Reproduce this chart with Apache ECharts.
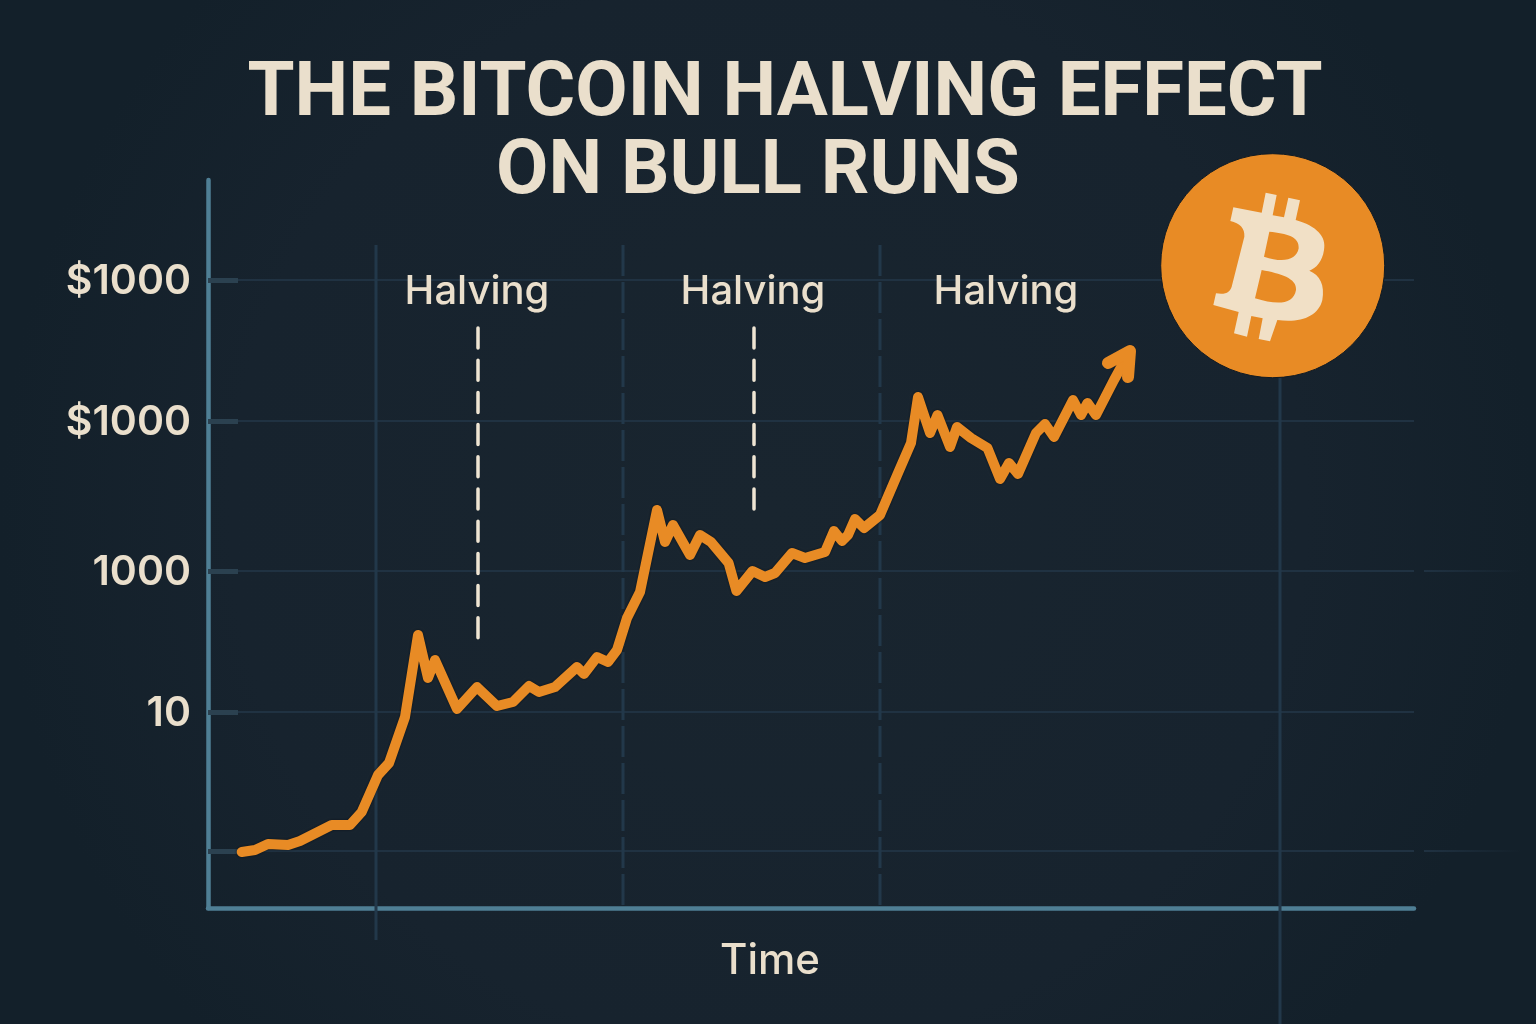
<!DOCTYPE html>
<html><head><meta charset="utf-8">
<style>html,body{margin:0;padding:0;background:#17232e}#c{width:1536px;height:1024px}</style>
<script src="https://cdn.jsdelivr.net/npm/echarts@6/dist/echarts.min.js"></script></head>
<body><div id="c"></div>
<script>
const titleLines = ['THE BITCOIN HALVING EFFECT', 'ON BULL RUNS'];
const axisTitle = 'Time';
const yTickValues = [0.57, 1.96, 3.37, 4.87, 6.28];
const yLabelValues = [0.55, 1.94, 3.35, 4.85, 6.26];
const yTickLabels = ['', '10', '1000', '$1000', '$1000'];
const timeValues = [3.37,4.7,6,8,9.2,12.37,14.2,15.37,17,18.1,19.7,21,22,22.7,24.9,26.9,28.9,30.5,32.1,33.1,34.7,36.9,37.6,38.9,40,40.9,41.9,43.2,44.9,45.7,46.5,48.2,49.2,50.3,52.06,52.84,54.45,55.7,56.7,58.4,59.7,61.7,62.6,63.4,64,64.7,65.6,67.2,69,70.3,71,72.2,72.95,74.2,74.9,76.3,77.95,79.2,80.1,81,82.8,83.7,84.6,86.5,87.3,87.95,88.8,90.6,92.2];
const priceValues = [0.56,0.58,0.64,0.63,0.67,0.83,0.83,0.96,1.33,1.45,1.91,2.73,2.3,2.48,1.99,2.21,2.02,2.06,2.22,2.16,2.21,2.41,2.34,2.51,2.46,2.58,2.9,3.16,3.98,3.66,3.83,3.53,3.73,3.66,3.45,3.17,3.37,3.31,3.35,3.55,3.5,3.56,3.77,3.67,3.73,3.89,3.8,3.93,4.35,4.65,5.11,4.75,4.93,4.61,4.81,4.7,4.6,4.29,4.45,4.34,4.75,4.84,4.71,5.08,4.93,5.05,4.93,5.28,5.57];
const arrowTime = [90.0, 92.2, 92.0];
const arrowPrice = [5.45, 5.57, 5.31];
const halvingLabels = ['Halving', 'Halving', 'Halving'];
const halvingLabelTime = [26.9, 54.5, 79.8];
const halvingLabelPrice = [6.16, 6.16, 6.16];
const halvingDashTime = [27, 54.6];
const halvingDashTop = [5.8, 5.8];
const halvingDashBottom = [2.65, 3.98];
const dashedGuideTime = [41.5, 67.2];
const solidGuides = [[16.8, 6.63, -0.32], [107.2, 5.3, -1.16]];

const GRID = '#203242';
const CREAM = '#eadfcc';
const ORANGE = '#e88b25';
const FONT = 'Inter';

function guide(name, data, color, width, dash, z, cap) {
  return {
    type: 'line', name, data, showSymbol: false, symbol: 'none', silent: true, clip: false, z,
    animation: false,
    lineStyle: { color, width, type: dash || 'solid', cap: cap || 'butt' }
  };
}
const series = [];
dashedGuideTime.forEach((t, i) => series.push(guide('grid-d' + i, [[t, 6.63], [t, 0]], '#22384a', 3, [31, 6], 1)));
solidGuides.forEach((g, i) => series.push(guide('grid-s' + i, [[g[0], g[1]], [g[0], g[2]]], '#22384a', 3, null, 1)));
halvingDashTime.forEach((t, i) => series.push(guide('halving-' + i, [[t, halvingDashTop[i]], [t, halvingDashBottom[i]]], '#efe5d3', 3.5, [20, 12.2], 4, 'round')));
series.push({
  type: 'line', name: 'Bitcoin price', data: timeValues.map((t, i) => [t, priceValues[i]]),
  showSymbol: false, symbol: 'none', clip: false, z: 6, animation: false, smooth: false,
  lineStyle: { color: ORANGE, width: 10, cap: 'round', join: 'round', shadowColor: 'rgba(8,14,20,0.8)', shadowBlur: 3 }
});
series.push({
  type: 'line', name: 'arrow', data: arrowTime.map((t, i) => [t, arrowPrice[i]]),
  showSymbol: false, symbol: 'none', clip: false, z: 6, animation: false,
  lineStyle: { color: ORANGE, width: 12, cap: 'round', join: 'round' }
});
series.push({
  type: 'scatter', name: 'labels', symbolSize: 0, z: 7, animation: false, silent: true,
  itemStyle: { opacity: 1 },
  data: halvingLabelTime.map((t, i) => ({ value: [t, halvingLabelPrice[i]], label: { formatter: halvingLabels[i] } })),
  label: { show: true, position: 'inside', color: CREAM, opacity: 1, fontFamily: FONT, fontSize: 40, fontWeight: 500 }
});

const bPath = 'M250,202 L335,218 L347,158 L380,165 L368,226 L402,232 L415,173 L450,181 L437,240 C500,258 530,290 522,330 C517,365 498,385 478,392 C510,405 525,435 517,480 C505,530 450,550 382,540 L360,604 L326,597 L338,535 L304,528 L291,590 L252,580 L266,516 L190,495 L198,460 C230,465 240,455 245,440 L283,290 C285,265 270,250 241,243 Z M358,275 L342,350 C400,370 440,360 446,325 C450,290 410,280 358,275 Z M335,390 L315,475 C380,495 430,495 438,450 C442,415 390,400 335,390 Z';
echarts.graphic.registerShape('btcGlyph', echarts.graphic.extendPath(bPath, {}));

const fade = { type: 'linear', x: 1424, y: 0, x2: 1522, y2: 0, global: true, colorStops: [{ offset: 0, color: '#203242' }, { offset: 1, color: 'rgba(32,50,66,0)' }] };
const chart = echarts.init(document.getElementById('c'), null, { renderer: 'canvas' });
chart.setOption({
  animation: false,
  backgroundColor: { type: 'radial', x: 0.5, y: 0.5, r: 0.75, colorStops: [{ offset: 0, color: '#19252f' }, { offset: 0.7, color: '#17232e' }, { offset: 1, color: '#13202a' }] },
  title: [
    { text: titleLines[0], left: 780, top: 53, textAlign: 'center', textStyle: { color: CREAM, fontFamily: 'Roboto', fontSize: 76, fontWeight: 700 } },
    { text: titleLines[1], left: 753, top: 131, textAlign: 'center', textStyle: { color: CREAM, fontFamily: 'Roboto', fontSize: 76, fontWeight: 700 } }
  ],
  grid: { left: 208, top: 180, width: 1206, height: 728, containLabel: false },
  xAxis: {
    type: 'value', min: 0, max: 120.6, name: axisTitle, nameLocation: 'middle', nameGap: 32,
    nameTextStyle: { color: CREAM, fontFamily: FONT, fontSize: 42, fontWeight: 500, padding: [0, 82, 0, 0] },
    axisLine: { show: true, onZero: false, lineStyle: { color: '#4f7f95', width: 4.5, cap: 'round' } },
    axisTick: { show: false }, axisLabel: { show: false }, splitLine: { show: false }
  },
  yAxis: {
    type: 'value', min: 0, max: 7.28,
    axisLine: { show: true, onZero: false, lineStyle: { color: '#4f7f95', width: 4.5, cap: 'round' } },
    axisTick: { show: true, inside: true, length: 30, customValues: yTickValues, lineStyle: { color: '#2b4150', width: 5 } },
    axisLabel: {
      customValues: yLabelValues, margin: 17, color: CREAM, fontFamily: FONT, fontSize: 41, fontWeight: 600,
      formatter: v => yTickLabels[yLabelValues.indexOf(v)] || ''
    },
    splitLine: { show: true, lineStyle: { color: GRID, width: 2 } }
  },
  series,
  graphic: [
    { type: 'line', z: 0, silent: true, shape: { x1: 1424, y1: 851, x2: 1522, y2: 851 }, style: { stroke: fade, lineWidth: 2 } },
    { type: 'line', z: 0, silent: true, shape: { x1: 1424, y1: 571, x2: 1522, y2: 571 }, style: { stroke: fade, lineWidth: 2 } },
    { type: 'circle', z: 50, shape: { cx: 1272.7, cy: 265.7, r: 112 }, style: { fill: '#e88b25', stroke: '#101a23', lineWidth: 1 } },
    { type: 'btcGlyph', z: 51, x: 1150, y: 140, scaleX: 1 / 3, scaleY: 1 / 3, style: { fill: '#f1e0c6' } }
  ]
});
</script></body></html>
